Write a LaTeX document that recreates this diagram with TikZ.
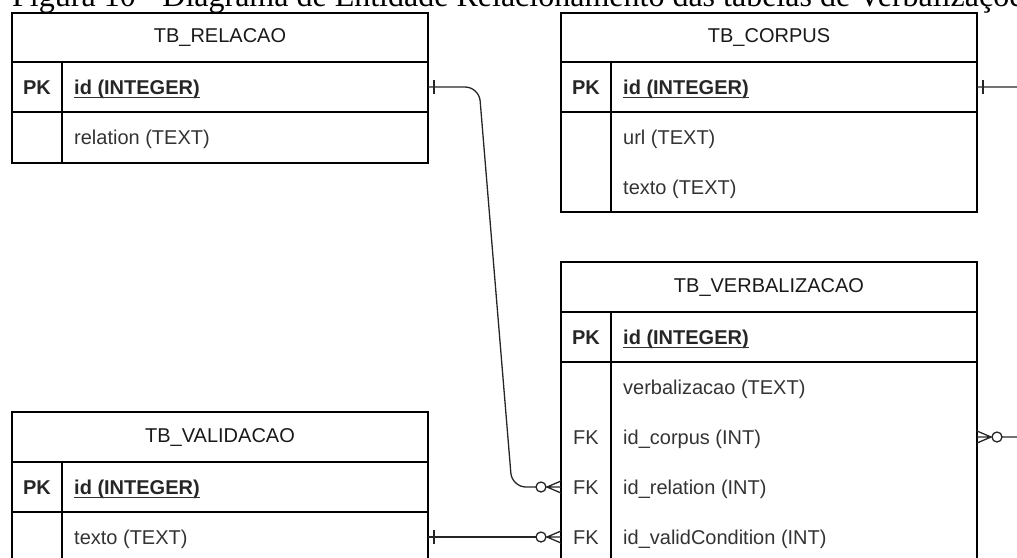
\documentclass[tikz,border=0pt]{standalone}
\usepackage{fontspec}
\setmainfont{Liberation Sans}
\newfontfamily\capfont{Liberation Serif}

% "one" end: a single bar just outside the table edge
\newcommand\erone[2]{%
  \draw[conn] ([xshift=#2*6pt]#1) ++(0,-7) -- ++(0,14);}
% "zero or many" end: a ring followed by a crow's foot
\newcommand\ermany[2]{%
  \draw[conn] ([xshift=#2*15pt]#1) -- (#1)
              ([xshift=#2*14pt]#1) -- ([yshift=6pt]#1)
              ([xshift=#2*14pt]#1) -- ([yshift=-6pt]#1);
  \draw[conn, fill=white] ([xshift=#2*20pt]#1) circle (5pt);}

\begin{document}
\begin{tikzpicture}[x=1pt,y=-1pt,
  box/.style={draw, line width=1.4pt, rectangle, inner sep=0pt, outer sep=0pt,
              minimum width=416pt, font=\fontsize{20}{24}\selectfont, text=black!90},
  slot/.style={rectangle, inner sep=0pt, outer sep=0pt,
               minimum width=416pt, minimum height=50pt},
  key/.style={anchor=base, inner sep=0pt, font=\fontsize{20}{24}\selectfont\bfseries, text=black!85},
  fk/.style={anchor=base, inner sep=0pt, font=\fontsize{20}{24}\selectfont, text=black!80},
  field/.style={anchor=base west, inner sep=0pt, font=\fontsize{20}{24}\selectfont, text=black!80},
  pkfield/.style={field, font=\fontsize{20}{24}\selectfont\bfseries, text=black!85},
  uline/.style={line width=1.1pt, black!80},
  divider/.style={line width=1.4pt},
  conn/.style={line width=1.3pt, black!85},
]
\useasboundingbox (0,0) rectangle (1017,557);
\clip (0,0) rectangle (1017,557);

% caption above the tables
\node[anchor=base west, inner sep=0pt, font=\capfont\fontsize{32}{36}\selectfont] (cap) at (12,6)
  {Figura 10 - Diagrama de Entidade Relacionamento das tabelas de Verbalizações};

% ---------------- TB_RELACAO ----------------
\node[box, minimum height=49pt] (relH) at (220,37.5) {TB\_RELACAO};
\node[box, minimum height=50pt] (relPK) at (220,87) {};
\node[box, minimum height=51pt] (relB) at (220,137.5) {};
\draw[divider] (relPK.north west) ++(50,0) -- ++(0,101);
\node[key] (relPKk) at (37,94) {PK};
\node[pkfield] (relPKf) at (74,94) {id (INTEGER)};
\draw[uline] ([yshift=-3.5pt]relPKf.base west) -- ([yshift=-3.5pt]relPKf.base east);
\node[field] (relR1) at (74,144) {relation (TEXT)};

% ---------------- TB_CORPUS ----------------
\node[box, minimum height=49pt] (corH) at (769,37.5) {TB\_CORPUS};
\node[box, minimum height=50pt] (corPK) at (769,87) {};
\node[box, minimum height=100pt] (corB) at (769,162) {};
\draw[divider] (corPK.north west) ++(50,0) -- ++(0,150);
\node[key] (corPKk) at (586,94) {PK};
\node[pkfield] (corPKf) at (623,94) {id (INTEGER)};
\draw[uline] ([yshift=-3.5pt]corPKf.base west) -- ([yshift=-3.5pt]corPKf.base east);
\node[field] (corUrl) at (623,144) {url (TEXT)};
\node[field] (corTxt) at (623,194) {texto (TEXT)};

% ---------------- TB_VERBALIZACAO ----------------
\node[box, minimum height=50pt] (verH) at (769,287) {TB\_VERBALIZACAO};
\node[box, minimum height=50pt] (verPK) at (769,337) {};
\node[box, minimum height=200pt] (verB) at (769,462) {};
\node[slot] (verCor) at (769,437) {};
\node[slot] (verRel) at (769,487) {};
\node[slot] (verVal) at (769,537) {};
\draw[divider] (verPK.north west) ++(50,0) -- ++(0,250);
\node[key] (verPKk) at (586,344) {PK};
\node[pkfield] (verPKf) at (623,344) {id (INTEGER)};
\draw[uline] ([yshift=-3.5pt]verPKf.base west) -- ([yshift=-3.5pt]verPKf.base east);
\node[field] (verTxt) at (623,394) {verbalizacao (TEXT)};
\node[fk] (verFK1) at (586,444) {FK};
\node[field] (verCorf) at (623,444) {id\_corpus (INT)};
\node[fk] (verFK2) at (586,494) {FK};
\node[field] (verRelf) at (623,494) {id\_relation (INT)};
\node[fk] (verFK3) at (586,544) {FK};
\node[field] (verValf) at (623,544) {id\_validCondition (INT)};

% ---------------- TB_VALIDACAO ----------------
\node[box, minimum height=50pt] (valH) at (220,437) {TB\_VALIDACAO};
\node[box, minimum height=50pt] (valPK) at (220,487) {};
\node[box, minimum height=50pt] (valB) at (220,537) {};
\draw[divider] (valPK.north west) ++(50,0) -- ++(0,100);
\node[key] (valPKk) at (37,494) {PK};
\node[pkfield] (valPKf) at (74,494) {id (INTEGER)};
\draw[uline] ([yshift=-3.5pt]valPKf.base west) -- ([yshift=-3.5pt]valPKf.base east);
\node[field] (valTxt) at (74,544) {texto (TEXT)};

% ---------------- relationships ----------------
\draw[conn, rounded corners=14pt] (relPK.east) -- (479,87) -- (512,487) -- ([xshift=-20pt]verRel.west);
\erone{relPK.east}{1}
\ermany{verRel.west}{-1}

\draw[conn, rounded corners=14pt] (corPK.east) -- (1045,87) -- (1045,437) -- ([xshift=20pt]verCor.east);
\erone{corPK.east}{1}
\ermany{verCor.east}{1}

\draw[conn] (valB.east) -- ([xshift=-20pt]verVal.west);
\erone{valB.east}{1}
\ermany{verVal.west}{-1}
\end{tikzpicture}
\end{document}
